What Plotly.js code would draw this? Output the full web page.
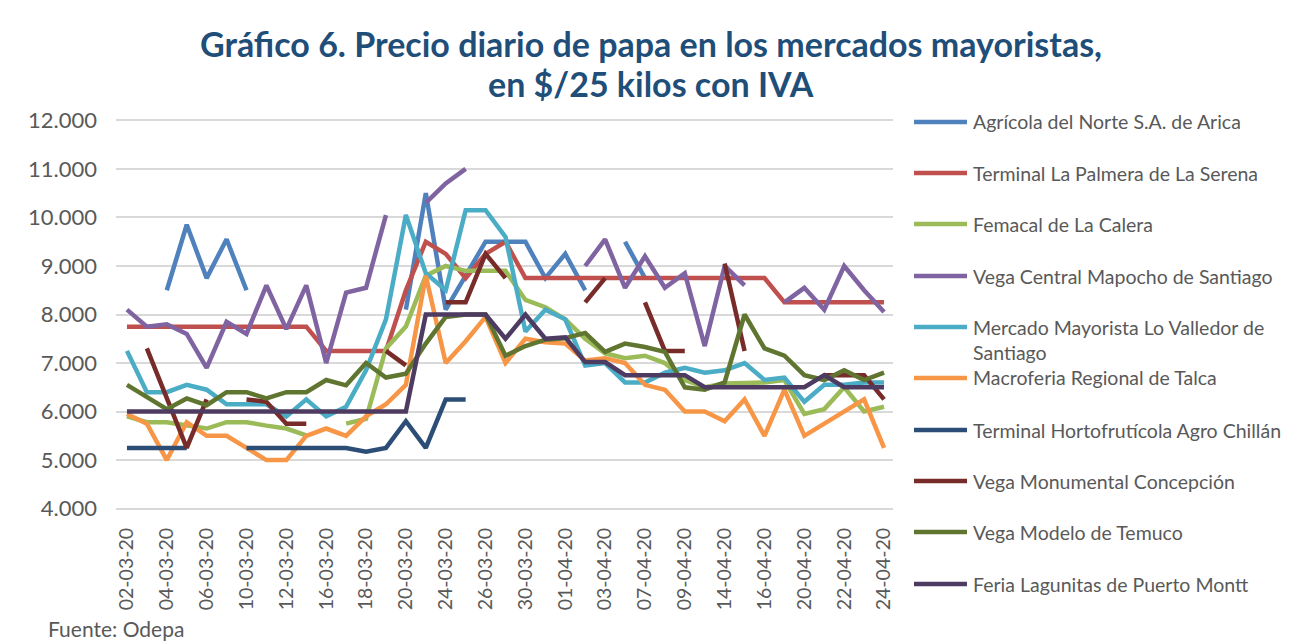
<!DOCTYPE html>
<html>
<head>
<meta charset="utf-8">
<script src="https://cdn.plot.ly/plotly-3.0.1.min.js"></script>
<style>
  html, body { margin: 0; padding: 0; background: #fff; }
  #chart { width: 1291px; height: 642px; }
</style>
</head>
<body>
<div id="chart"></div>
<script>
// Precio diario de papa, mercados mayoristas ($/25 kg con IVA)
const fechas = ['02-03-20','03-03-20','04-03-20','05-03-20','06-03-20','09-03-20','10-03-20','11-03-20','12-03-20','13-03-20',
  '16-03-20','17-03-20','18-03-20','19-03-20','20-03-20','23-03-20','24-03-20','25-03-20','26-03-20','27-03-20',
  '30-03-20','31-03-20','01-04-20','02-04-20','03-04-20','06-04-20','07-04-20','08-04-20','09-04-20','13-04-20',
  '14-04-20','15-04-20','16-04-20','17-04-20','20-04-20','21-04-20','22-04-20','23-04-20','24-04-20'];

const arica = [null, null, 8500, 9850, 8750, 9550, 8500, null, null, null,
  null, null, null, null, 8100, 10500, 8100, 8800, 9500, 9500,
  9500, 8750, 9250, 8500, null, 9500, 8750, null, null, null,
  null, null, null, null, null, null, null, null, null];
const serena = [7750, 7750, 7750, 7750, 7750, 7750, 7750, 7750, 7750, 7750,
  7250, 7250, 7250, 7250, 8500, 9500, 9250, 8750, 9250, 9500,
  8750, 8750, 8750, 8750, 8750, 8750, 8750, 8750, 8750, 8750,
  8750, 8750, 8750, 8250, 8250, 8250, 8250, 8250, 8250];
const calera = [5900, 5780, 5780, 5720, 5650, 5780, 5780, 5710, 5650, 5510,
  null, 5750, 5850, 7300, 7750, 8800, 9000, 8900, 8900, 8900,
  8300, 8150, 7900, 7500, 7200, 7100, 7150, 7000, 6650, 6500,
  6580, 6600, 6600, 6650, 5950, 6050, 6500, 6000, 6100];
const mapocho = [8100, 7750, 7800, 7600, 6900, 7850, 7600, 8600, 7700, 8600,
  7000, 8450, 8550, 10050, null, 10300, 10700, 11000, null, null,
  null, null, null, 9000, 9550, 8550, 9200, 8550, 8850, 7350,
  9000, 8600, null, 8250, 8550, 8100, 9000, 8500, 8050];
const valledor = [7250, 6400, 6400, 6550, 6450, 6150, 6150, 6150, 5900, 6250,
  5900, 6100, 6850, 7900, 10050, 8850, 8500, 10150, 10150, 9600,
  7650, 8100, 7900, 6950, 7000, 6600, 6600, 6800, 6900, 6800,
  6850, 7000, 6650, 6700, 6200, 6550, 6550, 6600, 6600];
const talca = [5950, 5750, 5000, 5780, 5500, 5500, 5250, 5000, 5000, 5500,
  5650, 5500, 5900, 6150, 6550, 8800, 7000, 7450, 7950, 7000,
  7500, 7430, 7400, 7050, 7100, 7000, 6550, 6450, 6000, 6000,
  5800, 6250, 5500, 6450, 5500, 5750, 6000, 6250, 5250];
const chillan = [5250, 5250, 5250, 5250, null, null, 5250, 5250, 5250, 5250,
  5250, 5250, 5170, 5250, 5800, 5250, 6250, 6250, null, null,
  null, null, null, null, null, null, null, null, null, null,
  null, null, null, null, null, null, null, null, null];
const concepcion = [null, 7300, 6250, 5250, 6250, null, 6250, 6200, 5750, 5750,
  null, null, null, 7250, 6950, null, 8250, 8250, 9250, 8750,
  null, null, null, 8250, 8750, null, 8250, 7250, 7250, null,
  9050, 7250, null, null, null, 6750, 6750, 6750, 6250];
const temuco = [6550, 6300, 6050, 6270, 6130, 6400, 6400, 6270, 6400, 6400,
  6650, 6540, 7000, 6700, 6780, 7400, 7950, 8000, 8000, 7150,
  7350, 7480, 7510, 7620, 7230, 7400, 7330, 7230, 6500, 6450,
  6600, 8000, 7300, 7150, 6750, 6650, 6850, 6650, 6800];
const lagunitas = [6000, 6000, 6000, 6000, 6000, 6000, 6000, 6000, 6000, 6000,
  6000, 6000, 6000, 6000, 6000, 8000, 8000, 8000, 8000, 7500,
  8000, 7500, 7530, 7020, 7020, 6750, 6750, 6750, 6750, 6500,
  6500, 6500, 6500, 6500, 6500, 6750, 6500, 6500, 6500];

const nombres = ['Agrícola del Norte S.A. de Arica', 'Terminal La Palmera de La Serena', 'Femacal de La Calera',
  'Vega Central Mapocho de Santiago', 'Mercado Mayorista Lo Valledor de<br>Santiago', 'Macroferia Regional de Talca',
  'Terminal Hortofrutícola Agro Chillán', 'Vega Monumental Concepción', 'Vega Modelo de Temuco', 'Feria Lagunitas de Puerto Montt'];
const series = [arica, serena, calera, mapocho, valledor, talca, chillan, concepcion, temuco, lagunitas];
const colores = ['#4F81BD', '#C0504D', '#9BBB59', '#8064A2', '#4BACC6', '#F79646', '#2C4D75', '#772C2A', '#5F7530', '#4D3B62'];
const titulo = ['Gráfico 6. Precio diario de papa en los mercados mayoristas,', 'en $/25 kilos con IVA'];

const W = 1291, H = 642;
const M = { l: 116, r: 398, t: 118, b: 131 };
const FONT = 'Lato, "Open Sans", sans-serif';
const GRIS = '#595959';

const px2x = px => (px - M.l) / (W - M.l - M.r);
const px2y = py => (H - M.b - py) / (H - M.t - M.b);

const traces = series.map((s, i) => ({
  x: fechas, y: s,
  name: nombres[i].replace('<br>', ' '),
  type: 'scatter', mode: 'lines',
  line: { color: colores[i], width: 4.5 },
  connectgaps: false,
  hoverinfo: 'x+y+name',
}));

// leyenda a mano (Excel deja el mismo paso aunque un nombre ocupe 2 líneas)
const legY = [122, 173, 224, 276, 327, 378, 430, 481, 532, 584];
const shapes = [], annotations = [];
nombres.forEach((n, i) => {
  shapes.push({
    type: 'line', xref: 'paper', yref: 'paper',
    x0: px2x(914), x1: px2x(967), y0: px2y(legY[i]), y1: px2y(legY[i]),
    line: { color: colores[i], width: 4.5 },
  });
  n.split('<br>').forEach((txt, k) => {
    annotations.push({
      text: txt, xref: 'paper', yref: 'paper',
      x: px2x(971), y: px2y(legY[i] + k * 25.5),
      xanchor: 'left', yanchor: 'middle', showarrow: false,
      font: { family: FONT, size: 19.5, color: GRIS },
    });
  });
});

// título en dos líneas, centrado como en Excel
[43, 83].forEach((py, k) => {
  annotations.push({
    text: '<b>' + titulo[k] + '</b>', xref: 'paper', yref: 'paper',
    x: px2x(651), y: px2y(py), xanchor: 'center', yanchor: 'middle', showarrow: false,
    font: { family: FONT, size: 34, color: '#1F4E79' },
  });
});

annotations.push({
  text: 'Fuente: Odepa', xref: 'paper', yref: 'paper',
  x: px2x(46), y: px2y(628), xanchor: 'left', yanchor: 'middle', showarrow: false,
  font: { family: FONT, size: 21, color: GRIS },
});

const layout = {
  width: W, height: H,
  paper_bgcolor: '#fff', plot_bgcolor: '#fff',
  separators: ',.',
  showlegend: false,
  margin: M,
  xaxis: {
    type: 'category', range: [-0.55, 38.45],
    tickvals: fechas.filter((d, i) => i % 2 === 0),
    tickangle: -90, ticks: '', showgrid: false, zeroline: false, showline: false,
    ticklabelstandoff: 12,
    tickfont: { family: FONT, size: 19.5, color: GRIS },
  },
  yaxis: {
    range: [3950, 12050], dtick: 1000, tickformat: ',.0f',
    gridcolor: '#D9D9D9', gridwidth: 1.5, zeroline: false, showline: false, ticks: '',
    ticklabelstandoff: 18,
    tickfont: { family: FONT, size: 22, color: GRIS },
  },
  shapes, annotations,
};

Plotly.newPlot('chart', traces, layout, { displayModeBar: false, responsive: false });
</script>
</body>
</html>
